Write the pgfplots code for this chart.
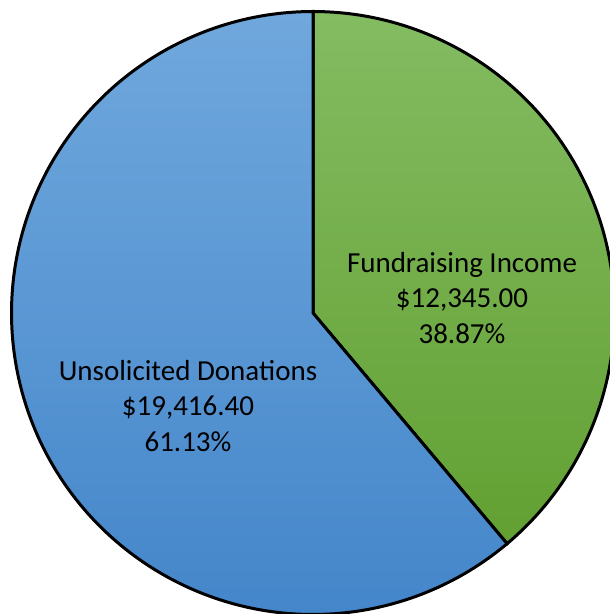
\documentclass[border=0pt]{standalone}
\usepackage{fontspec}
\setmainfont{Carlito}
\usepackage{pgfplots}
\usepackage{pgfplotstable}
\pgfplotsset{compat=1.18}

\definecolor{bluetop}{HTML}{70A8DD}
\definecolor{bluebot}{HTML}{4486CA}
\definecolor{greentop}{HTML}{84BC62}
\definecolor{greenbot}{HTML}{62A032}

\pgfplotstableread{
label value
Fundraising 12345.00
Unsolicited 19416.40
}\piedata

\begin{document}
\begin{tikzpicture}
\pgfplotstablegetelem{0}{value}\of\piedata \let\va\pgfplotsretval
\pgfplotstablegetelem{1}{value}\of\piedata \let\vb\pgfplotsretval
% angle where the two slices meet (start at 12 o'clock, clockwise)
\edef\splitang{\fpeval{round(90-360*\va/(\va+\vb),4)}}
\def\R{301.5}
\begin{axis}[
    scale only axis,
    width=610pt, height=614pt,
    xmin=-313, xmax=297,
    ymin=-301, ymax=313,
    hide axis,
    clip=true,
]
% green slice: Fundraising Income
\addplot[draw=black, line width=3pt, top color=greentop, bottom color=greenbot,
    domain=90:\splitang, samples=120, variable=\t]
    ({\R*cos(\t)}, {\R*sin(\t)}) -- (axis cs:0,0) -- cycle;
% blue slice: Unsolicited Donations
\addplot[draw=black, line width=3pt, top color=bluetop, bottom color=bluebot,
    domain=\splitang:-270, samples=200, variable=\t]
    ({\R*cos(\t)}, {\R*sin(\t)}) -- (axis cs:0,0) -- cycle;

\node[align=center, font=\fontsize{29}{35.5}\selectfont] at (axis cs:149,15)
    {Fundraising Income\\\$12,345.00\\38.87\%};
\node[align=center, font=\fontsize{29}{35.5}\selectfont] at (axis cs:-125,-93)
    {Unsolicited Donations\\\$19,416.40\\61.13\%};
\end{axis}
\pgfresetboundingbox
\path[use as bounding box] (current axis.south west) rectangle (current axis.north east);
\end{tikzpicture}
\end{document}
